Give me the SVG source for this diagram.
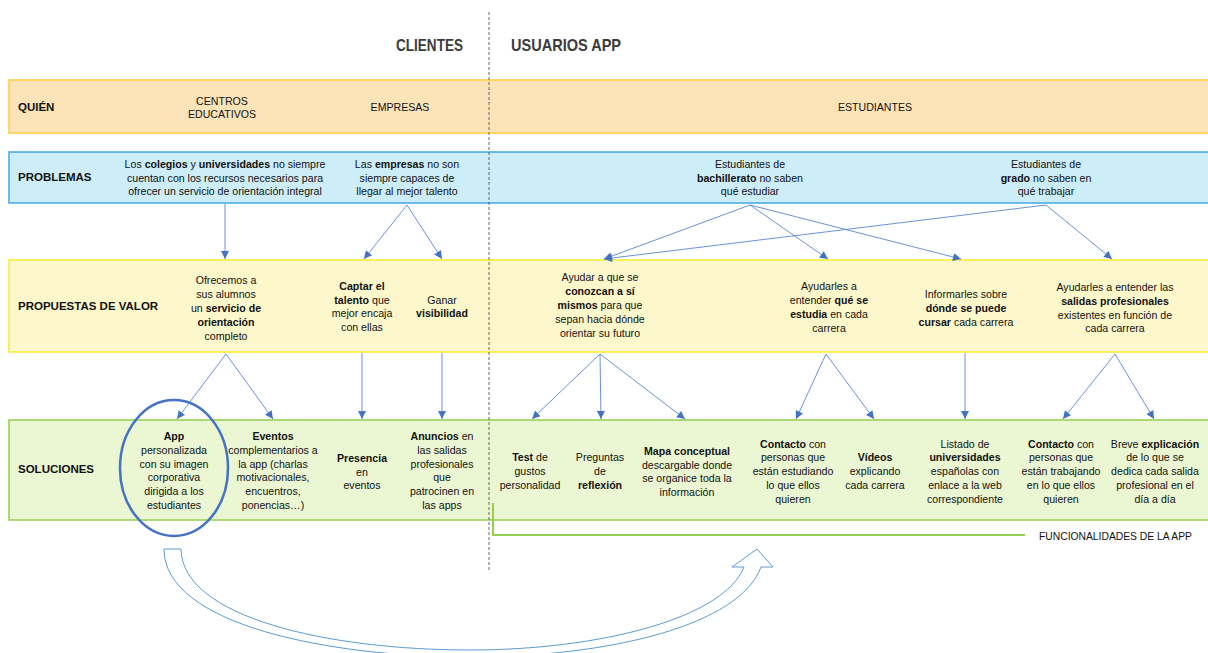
<svg xmlns="http://www.w3.org/2000/svg" width="1208" height="653" viewBox="0 0 1208 653">
<defs>
<style>
.f{font-family:'Liberation Sans Narrow','Liberation Sans',Arial,sans-serif;font-size:10.6px;fill:#111;text-anchor:middle}
.b{font-weight:bold}
.lbl{font-family:'Liberation Sans Narrow','Liberation Sans',Arial,sans-serif;font-size:11.5px;font-weight:bold;fill:#111;text-anchor:start}
.ttl{font-family:'Liberation Sans Narrow','Liberation Sans',Arial,sans-serif;font-size:17px;font-weight:bold;fill:#3b3b3b}
.cn{stroke:#5a86d6;stroke-width:0.9;fill:none;marker-end:url(#ah)}
</style>
<marker id="ah" viewBox="0 0 10 10" refX="10" refY="5" markerWidth="9" markerHeight="8" markerUnits="userSpaceOnUse" orient="auto">
<path d="M0,0 L10,5 L0,10 z" fill="#4472c4"/>
</marker>
</defs>
<rect width="1208" height="653" fill="#ffffff"/>

<g id="bands">
<rect x="9" y="80" width="1210" height="53" fill="#fce4b8" stroke="#ffcb3d" stroke-width="1.5"/>
<rect x="9" y="152" width="1210" height="51" fill="#cdedf9" stroke="#41a8e2" stroke-width="1.5"/>
<rect x="9" y="260" width="1210" height="92" fill="#fdf8cc" stroke="#f8ec2e" stroke-width="1.5"/>
<rect x="9" y="420" width="1210" height="100" fill="#ebf7d2" stroke="#92d050" stroke-width="1.5"/>
</g>

<line id="divider" x1="489" y1="12" x2="489" y2="570" stroke="#555" stroke-width="0.9" stroke-dasharray="3,2"/>

<g id="titles">
<text class="ttl" x="396" y="51" textLength="67" lengthAdjust="spacingAndGlyphs">CLIENTES</text>
<text class="ttl" x="511" y="51" textLength="110" lengthAdjust="spacingAndGlyphs">USUARIOS APP</text>
</g>

<g id="row-quien">
<text class="lbl" x="18" y="111">QUIÉN</text>
<text class="f" x="222" y="105">CENTROS</text>
<text class="f" x="222" y="118">EDUCATIVOS</text>
<text class="f" x="400" y="111">EMPRESAS</text>
<text class="f" x="875" y="111">ESTUDIANTES</text>
</g>

<g id="row-problemas">
<text class="lbl" x="18" y="181">PROBLEMAS</text>
<g id="p-colegios"><text class="f" x="225" y="168">Los <tspan class="b">colegios</tspan> y <tspan class="b">universidades</tspan> no  siempre</text>
<text class="f" x="225" y="181.5">cuentan con los recursos necesarios para</text>
<text class="f" x="225" y="195">ofrecer un servicio de orientación integral</text></g>
<g id="p-empresas"><text class="f" x="407" y="168">Las <tspan class="b">empresas</tspan> no son</text>
<text class="f" x="407" y="181.5">siempre capaces de</text>
<text class="f" x="407" y="195">llegar al mejor talento</text></g>
<g id="p-bachillerato"><text class="f" x="750" y="168">Estudiantes de</text>
<text class="f" x="750" y="181.5"><tspan class="b">bachillerato</tspan> no saben</text>
<text class="f" x="750" y="195">qué estudiar</text></g>
<g id="p-grado"><text class="f" x="1046" y="168">Estudiantes de</text>
<text class="f" x="1046" y="181.5"><tspan class="b">grado</tspan> no saben en</text>
<text class="f" x="1046" y="195">qué trabajar</text></g>
</g>

<g id="row-propuestas">
<text class="lbl" x="18" y="310">PROPUESTAS DE VALOR</text>
<g id="v-servicio"><text class="f" x="226" y="284">Ofrecemos a</text>
<text class="f" x="226" y="298">sus alumnos</text>
<text class="f" x="226" y="312">un <tspan class="b">servicio de</tspan></text>
<text class="f b" x="226" y="325.5">orientación</text>
<text class="f" x="226" y="339.5">completo</text></g>
<g id="v-talento"><text class="f b" x="362" y="290">Captar el</text>
<text class="f" x="362" y="303.5"><tspan class="b">talento</tspan> que</text>
<text class="f" x="362" y="317">mejor encaja</text>
<text class="f" x="362" y="330.5">con ellas</text></g>
<g id="v-visibilidad"><text class="f" x="442" y="303.5">Ganar</text>
<text class="f b" x="442" y="317">visibilidad</text></g>
<g id="v-conozcan"><text class="f" x="600" y="281">Ayudar a que se</text>
<text class="f b" x="600" y="295">conozcan a sí</text>
<text class="f" x="600" y="309"><tspan class="b">mismos</tspan> para que</text>
<text class="f" x="600" y="323">sepan hacia dónde</text>
<text class="f" x="600" y="337">orientar su futuro</text></g>
<g id="v-estudia"><text class="f" x="829" y="290">Ayudarles a</text>
<text class="f" x="829" y="304">entender <tspan class="b">qué se</tspan></text>
<text class="f" x="829" y="318"><tspan class="b">estudia</tspan> en cada</text>
<text class="f" x="829" y="332">carrera</text></g>
<g id="v-donde"><text class="f" x="966" y="298">Informarles sobre</text>
<text class="f b" x="966" y="312">dónde se puede</text>
<text class="f" x="966" y="326"><tspan class="b">cursar</tspan> cada carrera</text></g>
<g id="v-salidas"><text class="f" x="1115" y="291">Ayudarles a entender las</text>
<text class="f b" x="1115" y="305">salidas profesionales</text>
<text class="f" x="1115" y="319">existentes en función de</text>
<text class="f" x="1115" y="332">cada carrera</text></g>
</g>

<g id="row-soluciones">
<text class="lbl" x="18" y="473">SOLUCIONES</text>
<g id="s-app"><text class="f b" x="174" y="440">App</text>
<text class="f" x="174" y="453.8">personalizada</text>
<text class="f" x="174" y="467.6">con su imagen</text>
<text class="f" x="174" y="481.4">corporativa</text>
<text class="f" x="174" y="495.2">dirigida a los</text>
<text class="f" x="174" y="509">estudiantes</text>
<ellipse cx="174" cy="468" rx="54" ry="68" fill="none" stroke="#4472c4" stroke-width="2.5"/></g>
<g id="s-eventos"><text class="f b" x="273" y="440">Eventos</text>
<text class="f" x="273" y="453.8">complementarios a</text>
<text class="f" x="273" y="467.6">la app (charlas</text>
<text class="f" x="273" y="481.4">motivacionales,</text>
<text class="f" x="273" y="495.2">encuentros,</text>
<text class="f" x="273" y="509">ponencias…)</text></g>
<g id="s-presencia"><text class="f b" x="362" y="461.7">Presencia</text>
<text class="f" x="362" y="475.5">en</text>
<text class="f" x="362" y="489.3">eventos</text></g>
<g id="s-anuncios"><text class="f" x="442" y="440"><tspan class="b">Anuncios</tspan> en</text>
<text class="f" x="442" y="453.8">las salidas</text>
<text class="f" x="442" y="467.6">profesionales</text>
<text class="f" x="442" y="481.4">que</text>
<text class="f" x="442" y="495.2">patrocinen en</text>
<text class="f" x="442" y="509">las apps</text></g>
<g id="s-test"><text class="f" x="530" y="461"><tspan class="b">Test</tspan> de</text>
<text class="f" x="530" y="475">gustos</text>
<text class="f" x="530" y="488.5">personalidad</text></g>
<g id="s-preguntas"><text class="f" x="600" y="461">Preguntas</text>
<text class="f" x="600" y="475">de</text>
<text class="f b" x="600" y="488.5">reflexión</text></g>
<g id="s-mapa"><text class="f b" x="687" y="454.7">Mapa conceptual</text>
<text class="f" x="687" y="468.5">descargable donde</text>
<text class="f" x="687" y="482.3">se organice toda la</text>
<text class="f" x="687" y="496">información</text></g>
<g id="s-contacto1"><text class="f" x="793" y="447.5"><tspan class="b">Contacto</tspan> con</text>
<text class="f" x="793" y="461.3">personas que</text>
<text class="f" x="793" y="475.1">están estudiando</text>
<text class="f" x="793" y="488.9">lo que ellos</text>
<text class="f" x="793" y="502.7">quieren</text></g>
<g id="s-videos"><text class="f b" x="875" y="461">Vídeos</text>
<text class="f" x="875" y="475">explicando</text>
<text class="f" x="875" y="488.5">cada carrera</text></g>
<g id="s-listado"><text class="f" x="965" y="447.5">Listado de</text>
<text class="f b" x="965" y="461.3">universidades</text>
<text class="f" x="965" y="475.1">españolas con</text>
<text class="f" x="965" y="488.9">enlace a la web</text>
<text class="f" x="965" y="502.7">correspondiente</text></g>
<g id="s-contacto2"><text class="f" x="1061" y="447.5"><tspan class="b">Contacto</tspan> con</text>
<text class="f" x="1061" y="461.3">personas que</text>
<text class="f" x="1061" y="475.1">están trabajando</text>
<text class="f" x="1061" y="488.9">en lo que ellos</text>
<text class="f" x="1061" y="502.7">quieren</text></g>
<g id="s-breve"><text class="f" x="1155" y="447.5">Breve <tspan class="b">explicación</tspan></text>
<text class="f" x="1155" y="461.3">de lo que se</text>
<text class="f" x="1155" y="475.1">dedica cada salida</text>
<text class="f" x="1155" y="488.9">profesional en el</text>
<text class="f" x="1155" y="502.7">día a día</text></g>
</g>

<g id="funcionalidades">
<path d="M493,503 L493,535 L1025,535" fill="none" stroke="#92d050" stroke-width="2"/>
<text class="f" x="1039" y="540" style="text-anchor:start;font-size:11px" textLength="153" lengthAdjust="spacingAndGlyphs">FUNCIONALIDADES DE LA APP</text>
</g>

<g id="connectors">
<line class="cn" x1="225" y1="204" x2="225" y2="259"/>
<line class="cn" x1="407" y1="205" x2="364" y2="259"/>
<line class="cn" x1="407" y1="205" x2="442" y2="259"/>
<line class="cn" x1="750" y1="205" x2="604" y2="259"/>
<line class="cn" x1="750" y1="205" x2="828" y2="259"/>
<line class="cn" x1="750" y1="205" x2="961" y2="259"/>
<line class="cn" x1="1046" y1="205" x2="604" y2="259"/>
<line class="cn" x1="1046" y1="205" x2="1112" y2="259"/>
<line class="cn" x1="226" y1="354" x2="177" y2="419"/>
<line class="cn" x1="226" y1="354" x2="273" y2="419"/>
<line class="cn" x1="362" y1="353" x2="362" y2="419"/>
<line class="cn" x1="442" y1="353" x2="442" y2="419"/>
<line class="cn" x1="600" y1="354" x2="532" y2="419"/>
<line class="cn" x1="600" y1="354" x2="601" y2="419"/>
<line class="cn" x1="600" y1="354" x2="685" y2="419"/>
<line class="cn" x1="826" y1="354" x2="796" y2="419"/>
<line class="cn" x1="826" y1="354" x2="874" y2="419"/>
<line class="cn" x1="965" y1="353" x2="965" y2="419"/>
<line class="cn" x1="1115" y1="354" x2="1063" y2="419"/>
<line class="cn" x1="1115" y1="354" x2="1154" y2="419"/>
<path id="curved-arrow" d="M164,549 C164,625 330,657 470,657 C610,657 740,625 761,567 L773,567 L757,549 L732,567 L744,567 C724,618 600,650 470,650 C330,650 182,618 181,549 Z" fill="#ffffff" stroke="#5b9bd5" stroke-width="1"/>
</g>
</svg>
